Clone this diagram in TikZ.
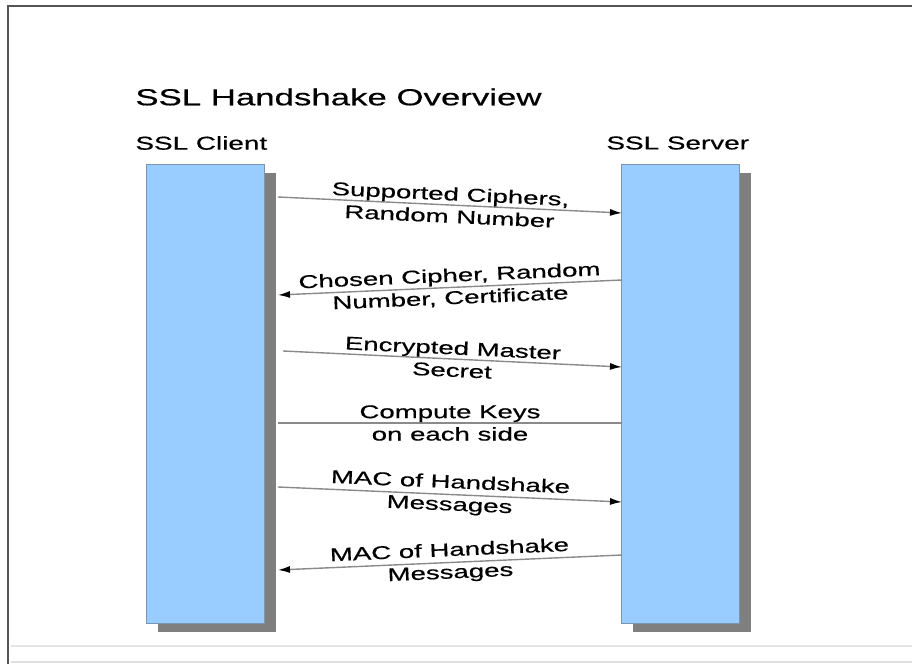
\documentclass[tikz,border=0pt]{standalone}
\usepackage{fontspec}
\setmainfont{Liberation Sans}
\newfontfamily\widesans[FakeStretch=1.5,FakeBold=0.5]{Liberation Sans}
\usetikzlibrary{arrows.meta,shadows}
\definecolor{barblue}{HTML}{99CCFF}
\definecolor{barline}{HTML}{7896B4}
\definecolor{shadowgray}{HTML}{7F7F7F}
\definecolor{msgline}{HTML}{8A8A8A}
\definecolor{framegray}{HTML}{555555}

\begin{document}
\begin{tikzpicture}[x=0.5pt,y=-0.5pt,
    bar/.style={draw=barline,line width=0.5pt,fill=barblue,minimum width=59pt,minimum height=229.5pt,
      drop shadow={shadow xshift=6pt,shadow yshift=-4.5pt,fill=shadowgray,opacity=1}},
    msg/.style={draw=msgline,line width=0.7pt},
    tip/.style={-{Latex[length=6pt,width=3.5pt,black]}},
    lbl/.style={font=\widesans\fontsize{9.2}{11.2}\selectfont,align=center,inner sep=1pt},
    head/.style={font=\widesans\fontsize{9.3}{11}\selectfont,anchor=west,inner sep=0pt}]

  \useasboundingbox (0,0) rectangle (912,664);
  \fill[white] (0,0) rectangle (912,664);

  % frame
  \coordinate (FrBL) at (8,664);
  \coordinate (FrTL) at (8,6);
  \coordinate (FrTR) at (912,6);
  \draw[framegray,line width=1.4pt] (FrBL) -- (FrTL) -- (FrTR);
  \coordinate (BoL) at (11,646);
  \coordinate (BoR) at (912,646);
  \draw[black!10,line width=0.6pt] (BoL) -- (BoR);
  \coordinate (BeL) at (11,662);
  \coordinate (BeR) at (912,662);
  \draw[black!12,line width=0.8pt] (BeL) -- (BeR);

  % titles
  \node[font=\widesans\fontsize{11.6}{14}\selectfont,anchor=west,inner sep=0pt] (Ti) at (135,97) {SSL Handshake Overview};
  \node[head] (ClTi) at (135,143) {SSL Client};
  \node[head] (SvTi) at (606,143) {SSL Server};

  % client and server
  \node[bar] (Cl) at (205,393.5) {};
  \node[bar] (Sv) at (680,393.5) {};

  \coordinate (ClA) at (278,197);  \coordinate (SvA) at (622,213);
  \coordinate (SvB) at (622,280);  \coordinate (ClB) at (278,295);
  \coordinate (ClC) at (283,351);  \coordinate (SvC) at (622,367);
  \coordinate (ClD) at (278,423);  \coordinate (SvD) at (622,423);
  \coordinate (ClE) at (278,487);  \coordinate (SvE) at (622,502);
  \coordinate (SvF) at (622,555);  \coordinate (ClF) at (278,570);

  % messages
  \draw[msg,tip] (ClA) to node[midway,sloped,lbl] {Supported Ciphers,\\Random Number} (SvA);
  \draw[msg,tip] (SvB) to node[midway,sloped,lbl] {Chosen Cipher, Random\\Number, Certificate} (ClB);
  \draw[msg,tip] (ClC) to node[midway,sloped,lbl] {Encrypted Master\\Secret} (SvC);
  \draw[msg] (ClD) to node[midway,lbl] {Compute Keys\\on each side} (SvD);
  \draw[msg,tip] (ClE) to node[midway,sloped,lbl] {MAC of Handshake\\Messages} (SvE);
  \draw[msg,tip] (SvF) to node[midway,sloped,lbl] {MAC of Handshake\\Messages} (ClF);

\end{tikzpicture}
\end{document}
